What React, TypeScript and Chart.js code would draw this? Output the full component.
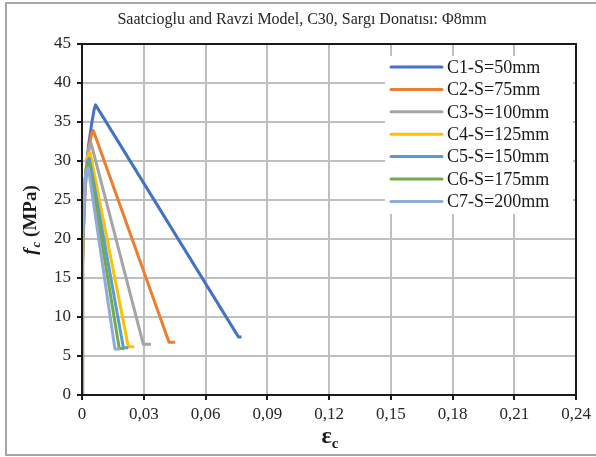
import React, { useEffect, useRef } from "react";
import { Chart, registerables } from "chart.js";

Chart.register(...registerables);

const TITLE = "Saatcioglu and Ravzi Model, C30, Sargı Donatısı: Φ8mm";
const SERIES_NAMES = ["C1-S=50mm", "C2-S=75mm", "C3-S=100mm", "C4-S=125mm", "C5-S=150mm", "C6-S=175mm", "C7-S=200mm"];
const COLORS = ["#4472C4", "#ED7D31", "#A5A5A5", "#FFC000", "#5B9BD5", "#70AD47", "#8FAADC"];

const X_TICKS = [0, 0.03, 0.06, 0.09, 0.12, 0.15, 0.18, 0.21, 0.24];
const Y_TICKS = [0, 5, 10, 15, 20, 25, 30, 35, 40, 45];

// strain (εc) and stress (fc, MPa) for each series
const C1_EPS = [0, 0.00015, 0.0003, 0.00066, 0.0013, 0.002, 0.0026, 0.0033, 0.004, 0.0046, 0.0053, 0.0059, 0.0066, 0.076, 0.0775];
const C1_FC = [0, 12, 16.5, 21, 25.5, 28.5, 30.5, 32.2, 33.5, 34.6, 35.7, 36.6, 37.2, 7.45, 7.45];
const C2_EPS = [0, 0.00015, 0.0004, 0.0008, 0.0014, 0.002, 0.0027, 0.0034, 0.0041, 0.0048, 0.0055, 0.0423, 0.0452];
const C2_FC = [0, 12, 17, 21.5, 25.5, 28, 30, 31.6, 32.8, 33.6, 33.9, 6.75, 6.75];
const C3_EPS = [0, 0.00015, 0.0004, 0.0008, 0.0013, 0.0019, 0.0025, 0.0031, 0.0038, 0.0044, 0.0298, 0.0335];
const C3_FC = [0, 12.5, 18, 22.5, 26, 28.5, 30.3, 31.4, 32.1, 32.3, 6.5, 6.5];
const C4_EPS = [0, 0.00015, 0.0004, 0.0008, 0.0012, 0.0017, 0.0023, 0.0029, 0.0034, 0.0039, 0.0225, 0.0254];
const C4_FC = [0, 13, 18.5, 23, 26, 28.2, 29.8, 30.6, 31, 31.1, 6.2, 6.2];
const C5_EPS = [0, 0.00015, 0.0004, 0.0007, 0.0011, 0.0016, 0.0021, 0.0026, 0.0031, 0.0036, 0.0201, 0.0225];
const C5_FC = [0, 13, 19, 22.5, 25.5, 27.7, 29, 29.8, 30.2, 30.3, 6.05, 6.05];
const C6_EPS = [0, 0.00015, 0.0004, 0.0007, 0.0011, 0.0015, 0.002, 0.0025, 0.003, 0.0034, 0.0181, 0.0206];
const C6_FC = [0, 13.5, 19.5, 23, 26, 27.6, 28.8, 29.4, 29.65, 29.7, 5.95, 5.95];
const C7_EPS = [0, 0.00015, 0.0004, 0.0007, 0.001, 0.0014, 0.0018, 0.0023, 0.0027, 0.0031, 0.016, 0.0185];
const C7_FC = [0, 14, 20, 23.5, 25.8, 27.4, 28.3, 28.8, 29.05, 29.1, 5.9, 5.9];

const ALL_EPS = [C1_EPS, C2_EPS, C3_EPS, C4_EPS, C5_EPS, C6_EPS, C7_EPS];
const ALL_FC = [C1_FC, C2_FC, C3_FC, C4_FC, C5_FC, C6_FC, C7_FC];

const SERIF = "'Liberation Serif', 'Times New Roman', serif";

const decorPlugin = {
  id: "decor",
  beforeDraw(chart: any) {
    const { ctx, width } = chart;
    ctx.save();
    ctx.fillStyle = "#ffffff";
    ctx.fillRect(0, 0, chart.width, chart.height);
    ctx.strokeStyle = "#a6a6a6";
    ctx.lineWidth = 2;
    ctx.beginPath();
    ctx.moveTo(width + 5, 3);
    ctx.lineTo(6, 3);
    ctx.lineTo(6, 455);
    ctx.lineTo(width + 5, 455);
    ctx.stroke();
    ctx.restore();
  },
  afterDatasetsDraw(chart: any) {
    const { ctx, chartArea } = chart;
    const { left, right, top, bottom } = chartArea;
    ctx.save();
    ctx.strokeStyle = "#1a1a1a";
    ctx.lineWidth = 2;
    ctx.strokeRect(left, top, right - left, bottom - top);

    ctx.fillStyle = "#262626";
    ctx.font = `16px ${SERIF}`;
    ctx.textAlign = "center";
    ctx.textBaseline = "middle";
    ctx.fillText(TITLE, 302, 20);

    const lx = 385, ly = 56, lw = 188, lh = 158;
    ctx.fillStyle = "#ffffff";
    ctx.fillRect(lx, ly, lw, lh);
    ctx.font = `18px ${SERIF}`;
    ctx.textAlign = "left";
    for (let i = 0; i < SERIES_NAMES.length; i++) {
      const y = 67 + i * 22.4;
      ctx.strokeStyle = COLORS[i];
      ctx.lineWidth = 3;
      ctx.lineCap = "round";
      ctx.beginPath();
      ctx.moveTo(391, y);
      ctx.lineTo(442, y);
      ctx.stroke();
      ctx.fillStyle = "#1a1a1a";
      ctx.fillText(SERIES_NAMES[i], 447, y + 1);
    }

    ctx.save();
    ctx.translate(30, 220);
    ctx.rotate(-Math.PI / 2);
    ctx.fillStyle = "#1a1a1a";
    ctx.textBaseline = "alphabetic";
    const fFont = `italic bold 19px ${SERIF}`;
    const cFont = `italic bold 13px ${SERIF}`;
    const restFont = `bold 19px ${SERIF}`;
    ctx.font = fFont;
    const wf = ctx.measureText("f").width;
    ctx.font = cFont;
    const wc = ctx.measureText("c").width;
    ctx.font = restFont;
    const wr = ctx.measureText(" (MPa)").width;
    const total = wf + wc + wr + 1;
    let x0 = -total / 2;
    ctx.textAlign = "left";
    ctx.font = fFont;
    ctx.fillText("f", x0, 6);
    x0 += wf + 1;
    ctx.font = cFont;
    ctx.fillText("c", x0, 10);
    x0 += wc;
    ctx.font = restFont;
    ctx.fillText(" (MPa)", x0, 6);
    ctx.restore();

    ctx.save();
    ctx.fillStyle = "#1a1a1a";
    ctx.textBaseline = "alphabetic";
    ctx.textAlign = "left";
    const eFont = `bold 24px ${SERIF}`;
    const ecFont = `bold 15px ${SERIF}`;
    ctx.font = eFont;
    const we = ctx.measureText("ε").width;
    ctx.font = ecFont;
    const wec = ctx.measureText("c").width;
    const sx = 330 - (we + wec) / 2;
    ctx.font = eFont;
    ctx.fillText("ε", sx, 443);
    ctx.font = ecFont;
    ctx.fillText("c", sx + we, 448);
    ctx.restore();

    ctx.restore();
  },
};

export default function App() {
  const canvasRef = useRef<HTMLCanvasElement | null>(null);

  useEffect(() => {
    document.body.style.margin = "0";
    const canvas = canvasRef.current;
    if (!canvas) return;
    const datasets = SERIES_NAMES.map((name, i) => ({
      label: name,
      data: ALL_EPS[i].map((e, j) => ({ x: e, y: ALL_FC[i][j] })),
      borderColor: COLORS[i],
      backgroundColor: COLORS[i],
      borderWidth: 3,
      pointRadius: 0,
      tension: 0,
      borderJoinStyle: "round" as const,
      fill: false,
      order: SERIES_NAMES.length - 1 - i,
    }));

    const chart = new Chart(canvas, {
      type: "line",
      data: { datasets },
      options: {
        responsive: false,
        animation: false,
        devicePixelRatio: 1,
        layout: { padding: { left: 0, top: 44, right: 20, bottom: 0 } },
        plugins: {
          legend: { display: false },
          title: { display: false },
          tooltip: { enabled: false },
        },
        scales: {
          x: {
            type: "linear",
            min: 0,
            max: 0.24,
            afterBuildTicks: (scale: any) => {
              scale.ticks = X_TICKS.map((v) => ({ value: v }));
            },
            afterFit: (scale: any) => {
              scale.height = 62;
            },
            ticks: {
              autoSkip: false,
              maxRotation: 0,
              padding: 4,
              color: "#262626",
              font: { family: SERIF, size: 17 },
              callback: (v: any) => (v === 0 ? "0" : Number(v).toFixed(2).replace(".", ",")),
            },
            grid: {
              color: "#bfbfbf",
              lineWidth: 2,
              tickColor: "#1a1a1a",
              tickLength: 5,
            },
            border: { color: "#1a1a1a", width: 2 },
          },
          y: {
            type: "linear",
            min: 0,
            max: 45,
            afterBuildTicks: (scale: any) => {
              scale.ticks = Y_TICKS.map((v) => ({ value: v }));
            },
            afterFit: (scale: any) => {
              scale.width = 82;
            },
            ticks: {
              autoSkip: false,
              padding: 6,
              color: "#262626",
              font: { family: SERIF, size: 17 },
            },
            grid: {
              color: "#bfbfbf",
              lineWidth: 2,
              tickColor: "#1a1a1a",
              tickLength: 5,
            },
            border: { color: "#1a1a1a", width: 2 },
          },
        },
      },
      plugins: [decorPlugin],
    });
    return () => chart.destroy();
  }, []);

  return (
    <div style={{ position: "absolute", left: 0, top: 0, width: 596, height: 457 }}>
      <canvas ref={canvasRef} width={596} height={457} style={{ display: "block" }} />
    </div>
  );
}
